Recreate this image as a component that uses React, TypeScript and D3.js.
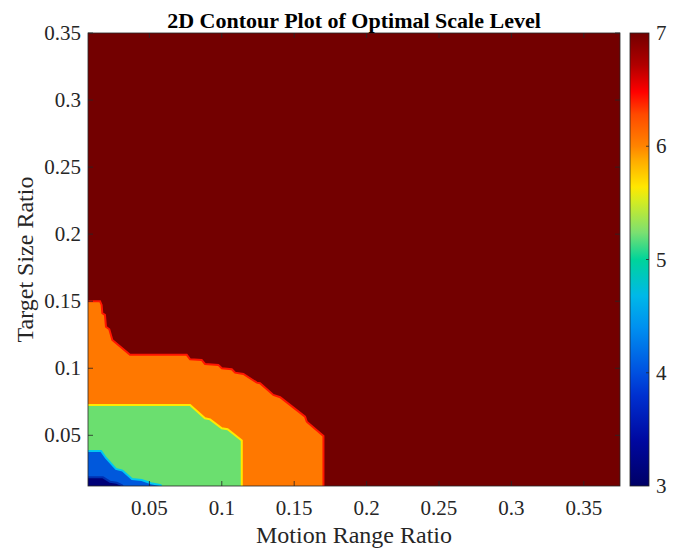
import React from "react";
import * as d3 from "d3";

// ---- data ----
const title = "2D Contour Plot of Optimal Scale Level";
const xLabel = "Motion Range Ratio";
const yLabel = "Target Size Ratio";
const xDomain: [number, number] = [0.0076, 0.375];
const yDomain: [number, number] = [0.0122, 0.35];
const xTicks = [0.05, 0.1, 0.15, 0.2, 0.25, 0.3, 0.35];
const yTicks = [0.05, 0.1, 0.15, 0.2, 0.25, 0.3, 0.35];
const levels = [3, 4, 5, 6, 7];

// Boundary of region below level 7 (6 | 7)
const boundary6: [number, number][] = [
  [0.0076, 0.15], [0.0159, 0.15], [0.017, 0.1472], [0.0175, 0.141], [0.0193, 0.1398],
  [0.02, 0.131], [0.0223, 0.1291], [0.0244, 0.1211], [0.0366, 0.11], [0.0758, 0.11],
  [0.0781, 0.1067], [0.0861, 0.1062], [0.0884, 0.1032], [0.0976, 0.1025], [0.1, 0.1],
  [0.1069, 0.0993], [0.1092, 0.0967], [0.1149, 0.0957], [0.1242, 0.0893], [0.1264, 0.0888],
  [0.1356, 0.0801], [0.1403, 0.0784], [0.1575, 0.0639], [0.1587, 0.0601], [0.1702, 0.0495],
  [0.1702, 0.0122],
];
// Boundary of region below level 6 (5 | 6)
const boundary5: [number, number][] = [
  [0.0076, 0.0726], [0.0781, 0.0726], [0.0884, 0.0627], [0.0919, 0.0619], [0.1, 0.0552],
  [0.104, 0.0545], [0.1138, 0.0461], [0.1138, 0.0122],
];
// Boundary of region below level 5 (4 | 5)
const boundary4: [number, number][] = [
  [0.0076, 0.0383], [0.0166, 0.0383], [0.02, 0.0331], [0.0269, 0.0249], [0.0314, 0.0237],
  [0.038, 0.0174], [0.0447, 0.0166], [0.0511, 0.0142], [0.0573, 0.0129], [0.0585, 0.0122],
];
// Boundary of region below level 4 (3 | 4)
const boundary3: [number, number][] = [
  [0.0076, 0.0187], [0.0179, 0.0187], [0.0228, 0.0154], [0.0274, 0.0146], [0.0309, 0.0129],
  [0.0318, 0.0122],
];

// ---- styles ----
const W = 681, H = 549;
const M = { left: 88, right: 620, top: 33, bottom: 486 };
const CB = { left: 630, right: 649 };
const txt = "#262626";
const font = "'Liberation Serif', 'Times New Roman', serif";

const regions = [
  { pts: boundary6, fill: "#730000", under: "#FF7800", stroke: "#FF1500" },
  { pts: boundary5, fill: "#FF7800", under: "#6BDF6F", stroke: "#FFEA00" },
  { pts: boundary4, fill: "#6BDF6F", under: "#0058DC", stroke: "#00C8F0" },
  { pts: boundary3, fill: "#0058DC", under: "#000078", stroke: "#0030B0" },
];

const cbStops: [number, string][] = [
  [0, "#000066"], [0.1, "#0008A0"], [0.2, "#0030D0"], [0.25, "#0050E0"], [0.35, "#0090F0"],
  [0.42, "#00B8E8"], [0.5, "#00D49A"], [0.56, "#7CE070"], [0.63, "#D6EC20"], [0.66, "#FFE800"],
  [0.72, "#FFAA00"], [0.75, "#FF8400"], [0.82, "#FF4A00"], [0.87, "#FF0000"], [0.93, "#B00000"],
  [1, "#730000"],
];

export default function App() {
  const x = d3.scaleLinear().domain(xDomain).range([M.left, M.right]);
  const y = d3.scaleLinear().domain(yDomain).range([M.bottom, M.top]);
  const cy = d3.scaleLinear().domain([levels[0], levels[levels.length - 1]]).range([M.bottom, M.top]);

  const line = d3.line<[number, number]>().x((d) => x(d[0])).y((d) => y(d[1]));
  const polyOf = (pts: [number, number][]) => {
    const last = pts[pts.length - 1];
    const closed: [number, number][] = [[xDomain[0], yDomain[0]], ...pts, [last[0], yDomain[0]]];
    return line(closed) + "Z";
  };

  const tickLen = 5;

  return (
    <svg
      width={W}
      height={H}
      style={{ position: "absolute", left: 0, top: 0, background: "#fff" }}
      fontFamily={font}
    >
      <defs>
        <clipPath id="plotClip">
          <rect x={M.left} y={M.top} width={M.right - M.left} height={M.bottom - M.top} />
        </clipPath>
        <linearGradient id="cbGrad" x1="0" y1="1" x2="0" y2="0">
          {cbStops.map(([o, c], i) => (
            <stop key={i} offset={o} stopColor={c} />
          ))}
        </linearGradient>
      </defs>

      <g clipPath="url(#plotClip)">
        <rect x={M.left} y={M.top} width={M.right - M.left} height={M.bottom - M.top} fill={regions[0].fill} />
        {regions.map((r, i) => (
          <g key={i}>
            <path d={polyOf(r.pts)} fill={r.under} />
            <path d={line(r.pts) || ""} fill="none" stroke={r.stroke} strokeWidth={2} />
          </g>
        ))}
      </g>

      {/* axes box */}
      <rect x={M.left} y={M.top} width={M.right - M.left} height={M.bottom - M.top} fill="none" stroke={txt} strokeWidth={0.8} />

      {xTicks.map((t) => (
        <g key={"x" + t}>
          <line x1={x(t)} x2={x(t)} y1={M.bottom} y2={M.bottom - tickLen} stroke={txt} strokeWidth={0.8} />
          <line x1={x(t)} x2={x(t)} y1={M.top} y2={M.top + tickLen} stroke={txt} strokeWidth={0.8} />
          <text x={x(t)} y={515} textAnchor="middle" fontSize={21} fill={txt}>
            {String(+t.toFixed(2))}
          </text>
        </g>
      ))}
      {yTicks.map((t) => (
        <g key={"y" + t}>
          <line x1={M.left} x2={M.left + tickLen} y1={y(t)} y2={y(t)} stroke={txt} strokeWidth={0.8} />
          <line x1={M.right} x2={M.right - tickLen} y1={y(t)} y2={y(t)} stroke={txt} strokeWidth={0.8} />
          <text x={81} y={y(t) + 7} textAnchor="end" fontSize={21} fill={txt}>
            {String(+t.toFixed(2))}
          </text>
        </g>
      ))}

      <text x={(M.left + M.right) / 2} y={28} textAnchor="middle" fontSize={22} fontWeight="bold" fill="#000">
        {title}
      </text>
      <text x={(M.left + M.right) / 2} y={543} textAnchor="middle" fontSize={24} fill={txt}>
        {xLabel}
      </text>
      <text
        transform={`translate(33, ${(M.top + M.bottom) / 2}) rotate(-90)`}
        textAnchor="middle"
        fontSize={24}
        fill={txt}
      >
        {yLabel}
      </text>

      {/* colorbar */}
      <rect x={CB.left} y={M.top} width={CB.right - CB.left} height={M.bottom - M.top} fill="url(#cbGrad)" stroke={txt} strokeWidth={0.8} />
      {levels.map((l) => (
        <g key={"c" + l}>
          {l !== levels[0] && l !== levels[levels.length - 1] && (
            <line x1={CB.right} x2={CB.right - 3} y1={cy(l)} y2={cy(l)} stroke={txt} strokeWidth={0.8} />
          )}
          <text x={656} y={cy(l) + 7} fontSize={21} fill={txt}>
            {l}
          </text>
        </g>
      ))}
    </svg>
  );
}
